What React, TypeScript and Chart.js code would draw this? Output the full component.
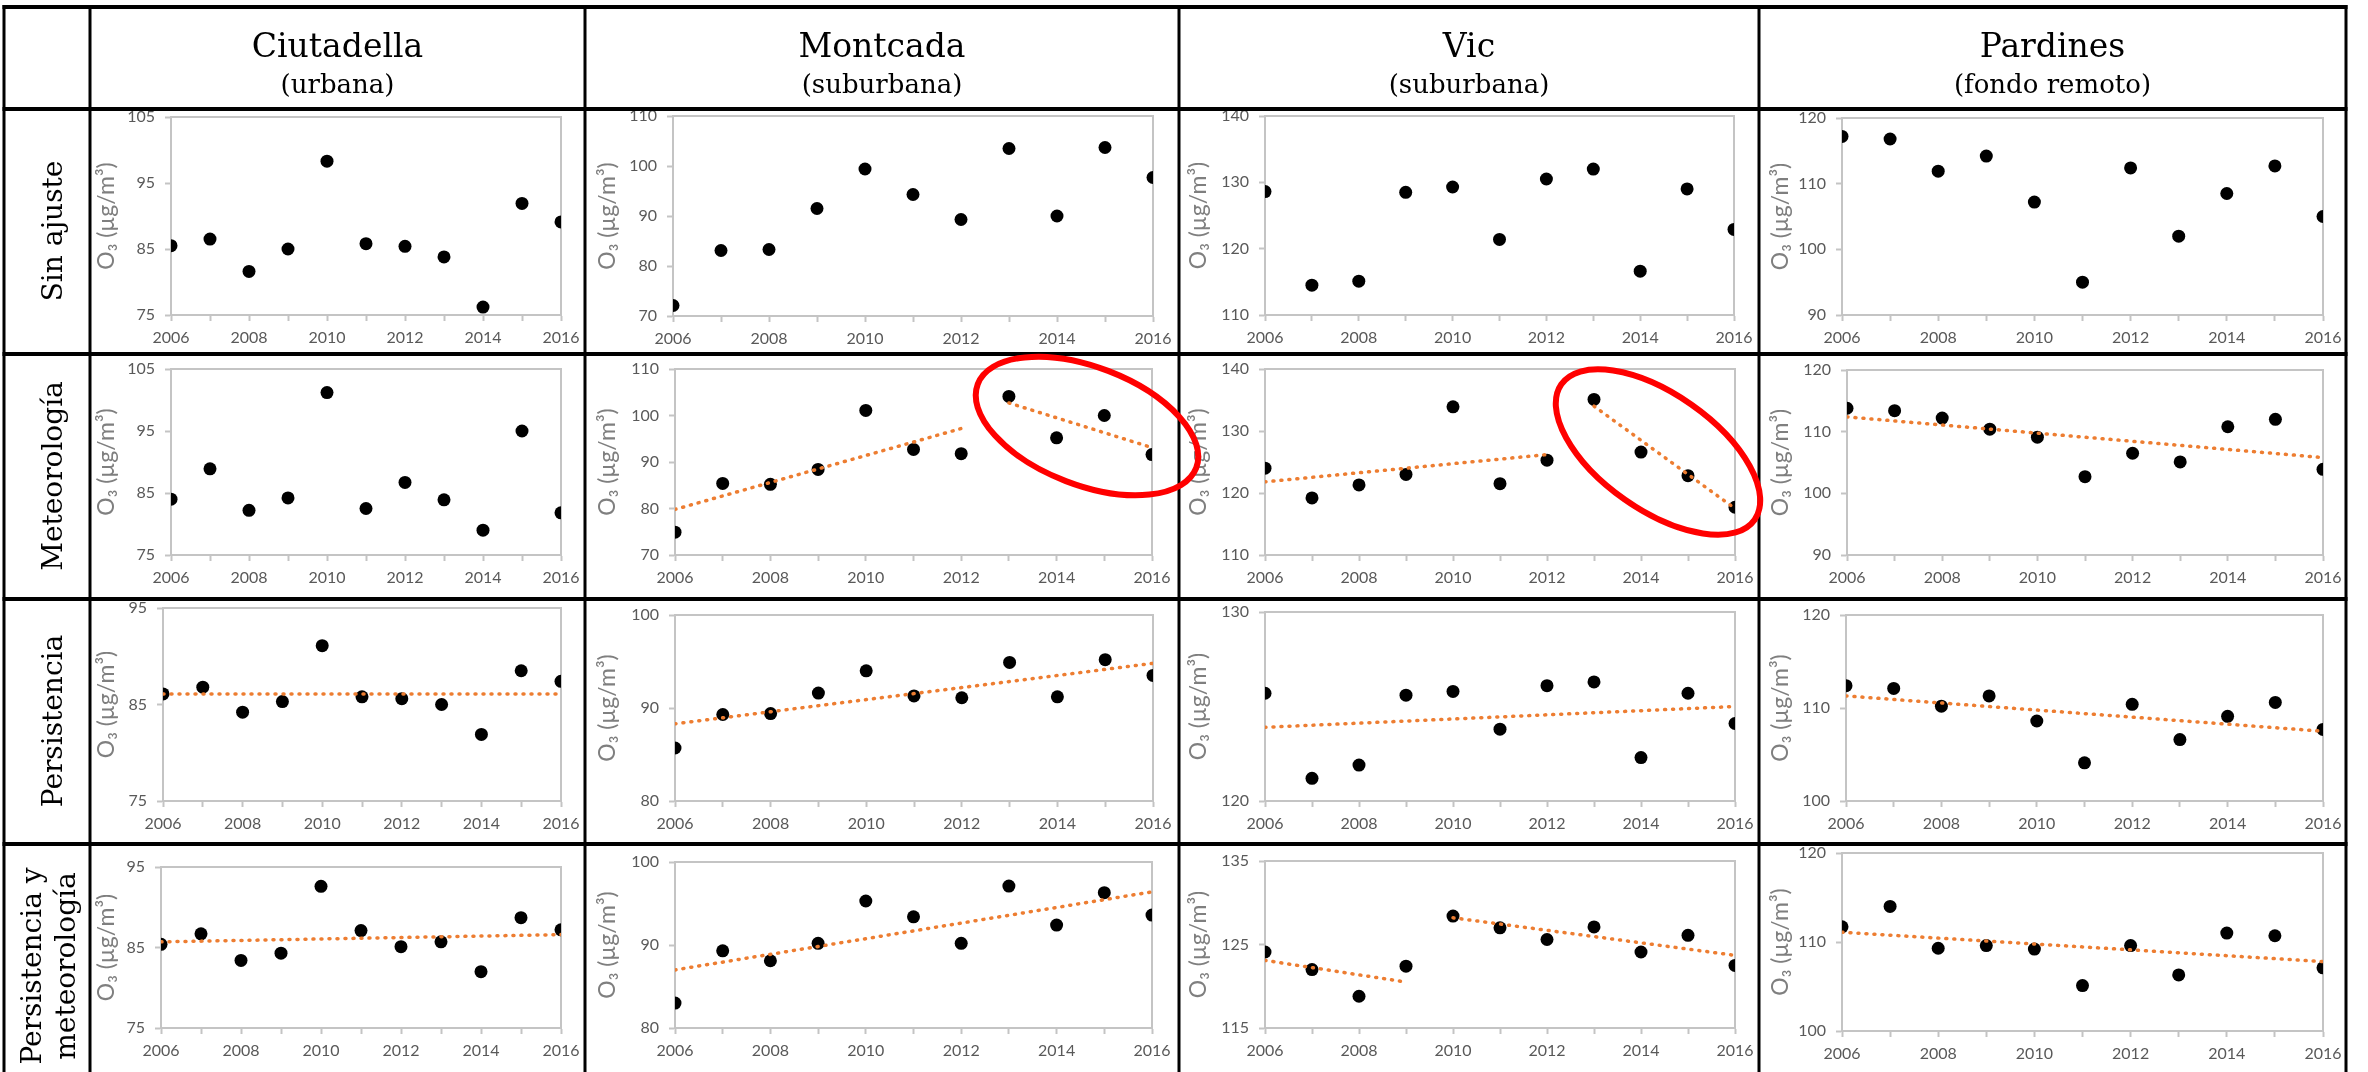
import React, { useEffect, useRef } from "react";
import { Chart, registerables } from "chart.js";

Chart.register(...registerables);

// ---------- data ----------
const years = [2006, 2007, 2008, 2009, 2010, 2011, 2012, 2013, 2014, 2015, 2016];
const stations = ["Ciutadella", "Montcada", "Vic", "Pardines"];
const stationTypes = ["(urbana)", "(suburbana)", "(suburbana)", "(fondo remoto)"];
const adjustmentLabels = [["Sin ajuste"], ["Meteorología"], ["Persistencia"], ["Persistencia y", "meteorología"]];
const yAxisTitle = "O\u2083 (\u00B5g/m\u00B3)";

// Sin ajuste
const sinAjusteCiutadella = [85.5, 86.5, 81.6, 85.0, 98.3, 85.8, 85.4, 83.8, 76.2, 91.9, 89.1];
const sinAjusteMontcada = [72.1, 83.1, 83.3, 91.5, 99.4, 94.3, 89.3, 103.5, 90.0, 103.7, 97.7];
const sinAjusteVic = [128.6, 114.5, 115.1, 128.5, 129.3, 121.4, 130.5, 132.0, 116.6, 129.0, 122.9];
const sinAjustePardines = [117.2, 116.8, 111.9, 114.2, 107.2, 95.0, 112.4, 102.0, 108.5, 112.7, 105.0];

// Meteorología
const meteoCiutadella = [84.0, 88.9, 82.2, 84.2, 101.2, 82.5, 86.7, 83.9, 79.0, 95.0, 81.8];
const meteoMontcada = [74.9, 85.4, 85.2, 88.4, 101.1, 92.7, 91.8, 104.1, 95.2, 100.0, 91.6];
const meteoVic = [124.0, 119.2, 121.3, 123.0, 133.9, 121.5, 125.3, 135.1, 126.6, 122.8, 117.7];
const meteoPardines = [113.8, 113.4, 112.2, 110.4, 109.1, 102.7, 106.5, 105.1, 110.8, 112.0, 103.9];

// Persistencia
const persCiutadella = [86.1, 86.8, 84.2, 85.3, 91.1, 85.8, 85.6, 85.0, 81.9, 88.5, 87.4];
const persMontcada = [85.7, 89.3, 89.4, 91.6, 94.0, 91.3, 91.1, 94.9, 91.2, 95.2, 93.5];
const persVic = [125.7, 121.2, 121.9, 125.6, 125.8, 123.8, 126.1, 126.3, 122.3, 125.7, 124.1];
const persPardines = [112.4, 112.1, 110.2, 111.3, 108.6, 104.1, 110.4, 106.6, 109.1, 110.6, 107.7];

// Persistencia y meteorología
const persMeteoCiutadella = [85.4, 86.7, 83.4, 84.3, 92.6, 87.1, 85.1, 85.7, 82.0, 88.7, 87.2];
const persMeteoMontcada = [83.0, 89.3, 88.1, 90.2, 95.3, 93.4, 90.2, 97.1, 92.4, 96.3, 93.6];
const persMeteoVic = [124.1, 122.0, 118.8, 122.4, 128.4, 127.0, 125.6, 127.1, 124.1, 126.1, 122.5];
const persMeteoPardines = [111.7, 114.0, 109.3, 109.6, 109.2, 105.1, 109.6, 106.3, 111.0, 110.7, 107.1];

// Trend lines: [year start, value start, year end, value end]
const trendMeteoMontcada = [[2006, 79.8, 2012, 97.2], [2013, 102.7, 2016, 93.1]];
const trendMeteoVic = [[2006, 121.8, 2012, 126.2], [2013, 134.0, 2016, 117.5]];
const trendMeteoPardines = [[2006, 112.4, 2016, 105.8]];
const trendPersCiutadella = [[2006, 86.1, 2016, 86.1]];
const trendPersMontcada = [[2006, 88.3, 2016, 94.8]];
const trendPersVic = [[2006, 123.9, 2016, 125.0]];
const trendPersPardines = [[2006, 111.3, 2016, 107.5]];
const trendPersMeteoCiutadella = [[2006, 85.7, 2016, 86.6]];
const trendPersMeteoMontcada = [[2006, 87.0, 2016, 96.4]];
const trendPersMeteoVic = [[2006, 123.1, 2009, 120.5], [2010, 128.2, 2016, 123.7]];
const trendPersMeteoPardines = [[2006, 111.1, 2016, 107.8]];

// y axis ranges [min, max] (tick labels every 10)
const yRangesSinAjuste = [[75, 105], [70, 110], [110, 140], [90, 120]];
const yRangesMeteo = [[75, 105], [70, 110], [110, 140], [90, 120]];
const yRangesPers = [[75, 95], [80, 100], [120, 130], [100, 120]];
const yRangesPersMeteo = [[75, 95], [80, 100], [115, 135], [100, 120]];

const rowSeries = [
  [sinAjusteCiutadella, sinAjusteMontcada, sinAjusteVic, sinAjustePardines],
  [meteoCiutadella, meteoMontcada, meteoVic, meteoPardines],
  [persCiutadella, persMontcada, persVic, persPardines],
  [persMeteoCiutadella, persMeteoMontcada, persMeteoVic, persMeteoPardines],
];
const rowTrends = [
  [[], [], [], []],
  [[], trendMeteoMontcada, trendMeteoVic, trendMeteoPardines],
  [trendPersCiutadella, trendPersMontcada, trendPersVic, trendPersPardines],
  [trendPersMeteoCiutadella, trendPersMeteoMontcada, trendPersMeteoVic, trendPersMeteoPardines],
];
const rowYRanges = [yRangesSinAjuste, yRangesMeteo, yRangesPers, yRangesPersMeteo];

// ---------- layout (page pixels) ----------
const W = 2368;
const H = 1072;
const colLines = [4, 90, 585, 1179, 1759, 2346];
const rowLines = [7, 109, 354, 599, 844, 1089];
const titleXs = [107, 608, 1199, 1781];
// plot area [left, top, right, bottom]
const plotRects = [
  [[171, 117, 561, 315], [673, 116, 1153, 316], [1265, 116, 1734, 315], [1842, 118, 2323, 315]],
  [[171, 369, 561, 555], [675, 369, 1152, 555], [1265, 369, 1735, 555], [1847, 370, 2323, 555]],
  [[163, 608, 561, 801], [675, 615, 1153, 801], [1265, 612, 1735, 801], [1846, 615, 2323, 801]],
  [[161, 867, 561, 1028], [675, 862, 1152, 1028], [1265, 861, 1735, 1028], [1842, 853, 2323, 1031]],
];

const FRAME = "#c4c4c4";
const TICK_COLOR = "#595959";
const TITLE_COLOR = "#7f7f7f";
const TREND_COLOR = "#ED7D31";
const PAD_TOP = 30;
const PAD_RIGHT = 30;
const X_AXIS_H = 45;
const TITLE_SIZE = 23;

const framePlugin = {
  id: "plotFrame",
  beforeDatasetsDraw(chart: any) {
    const { ctx, chartArea: a } = chart;
    ctx.save();
    ctx.strokeStyle = FRAME;
    ctx.lineWidth = 2;
    ctx.beginPath();
    ctx.moveTo(a.left, a.top);
    ctx.lineTo(a.right, a.top);
    ctx.lineTo(a.right, a.bottom);
    ctx.stroke();
    ctx.restore();
  },
};

function Panel({ row, col }: { row: number; col: number }) {
  const ref = useRef<HTMLCanvasElement>(null);
  const [pl, pt, pr, pb] = plotRects[row][col];
  const left = colLines[col] + 2;
  const top = pt - PAD_TOP;
  const width = pr + PAD_RIGHT - left;
  const height = pb + X_AXIS_H - top;
  const yW = pl - left;
  const titlePad = Math.max(0, titleXs[col] - left - (TITLE_SIZE * 1.2) / 2);

  useEffect(() => {
    const values = rowSeries[row][col];
    const trends = rowTrends[row][col];
    const [ymin, ymax] = rowYRanges[row][col];
    const datasets: any[] = trends.map((s: number[]) => ({
      data: [
        { x: s[0], y: s[1] },
        { x: s[2], y: s[3] },
      ],
      showLine: true,
      borderColor: TREND_COLOR,
      borderWidth: 3.5,
      borderDash: [1, 7],
      borderCapStyle: "round",
      pointRadius: 0,
      fill: false,
      order: 0,
    }));
    datasets.push({
      data: years.map((x, i) => ({ x, y: values[i] })),
      backgroundColor: "#000000",
      borderWidth: 0,
      pointRadius: 6.5,
      pointHoverRadius: 6.5,
      order: 1,
    });
    const chart = new Chart(ref.current as HTMLCanvasElement, {
      type: "scatter",
      data: { datasets },
      options: {
        animation: false,
        responsive: false,
        maintainAspectRatio: false,
        layout: { padding: { top: PAD_TOP, right: PAD_RIGHT, left: 0, bottom: 0 } },
        plugins: { legend: { display: false }, tooltip: { enabled: false } },
        scales: {
          x: {
            type: "linear",
            min: 2006,
            max: 2016,
            afterFit: (s: any) => {
              s.height = X_AXIS_H;
            },
            ticks: {
              stepSize: 1,
              autoSkip: false,
              maxRotation: 0,
              padding: 7,
              color: TICK_COLOR,
              font: { family: "Lato", size: 16 },
              callback: (v: any) => (Number(v) % 2 === 0 ? String(v) : ""),
            },
            grid: { color: "rgba(0,0,0,0)", drawOnChartArea: false, tickColor: FRAME, tickLength: 6, tickWidth: 2 },
            border: { display: true, color: FRAME, width: 2 },
          },
          y: {
            type: "linear",
            min: ymin,
            max: ymax,
            afterFit: (s: any) => {
              s.width = yW;
            },
            ticks: {
              stepSize: 10,
              padding: 10,
              color: TICK_COLOR,
              font: { family: "Lato", size: 16 },
            },
            grid: { color: "rgba(0,0,0,0)", drawOnChartArea: false, tickColor: FRAME, tickLength: 6, tickWidth: 2 },
            border: { display: true, color: FRAME, width: 2 },
            title: {
              display: true,
              text: yAxisTitle,
              color: TITLE_COLOR,
              font: { family: "Lato", size: TITLE_SIZE },
              padding: { top: titlePad, bottom: 0 },
            },
          },
        },
      },
      plugins: [framePlugin],
    } as any);
    return () => chart.destroy();
  }, [row, col]);

  return (
    <canvas
      ref={ref}
      width={width}
      height={height}
      style={{ position: "absolute", left, top, width, height }}
    />
  );
}

function Overlay() {
  const serif = "'DejaVu Serif', 'Liberation Serif', serif";
  const rowCenters = [231, 476, 721, 966];
  return (
    <svg
      width={W}
      height={H}
      style={{ position: "absolute", left: 0, top: 0, pointerEvents: "none" }}
    >
      {colLines.map((x, i) => (
        <line key={"v" + i} x1={x} y1={rowLines[0] - 2} x2={x} y2={rowLines[5] + 2} stroke="#000" strokeWidth={3} />
      ))}
      {rowLines.map((y, i) => (
        <line key={"h" + i} x1={colLines[0] - 1.5} y1={y} x2={colLines[5] + 1.5} y2={y} stroke="#000" strokeWidth={4} />
      ))}
      {stations.map((s, i) => {
        const cx = (colLines[i + 1] + colLines[i + 2]) / 2;
        return (
          <g key={"hd" + i}>
            <text x={cx} y={57} textAnchor="middle" fontFamily={serif} fontSize={33} fill="#000">
              {s}
            </text>
            <text x={cx} y={93} textAnchor="middle" fontFamily={serif} fontSize={26} fill="#000">
              {stationTypes[i]}
            </text>
          </g>
        );
      })}
      {adjustmentLabels.map((lines, i) => {
        const baselines = lines.length === 1 ? [62] : [41, 75];
        return lines.map((t, j) => (
          <text
            key={"rl" + i + "_" + j}
            transform={`translate(${baselines[j]},${rowCenters[i]}) rotate(-90)`}
            textAnchor="middle"
            fontFamily={serif}
            fontSize={28}
            fill="#000"
          >
            {t}
          </text>
        ));
      })}
      <ellipse cx={1087} cy={426} rx={117} ry={59} transform="rotate(21 1087 426)" fill="none" stroke="#ff0000" strokeWidth={6} />
      <ellipse cx={1658} cy={452} rx={118} ry={58} transform="rotate(35 1658 452)" fill="none" stroke="#ff0000" strokeWidth={6} />
    </svg>
  );
}

export default function App() {
  const cells: React.ReactNode[] = [];
  for (let r = 0; r < 4; r++) {
    for (let c = 0; c < 4; c++) {
      cells.push(<Panel key={r + "-" + c} row={r} col={c} />);
    }
  }
  return (
    <div
      style={{
        position: "fixed",
        left: 0,
        top: 0,
        width: W,
        height: H,
        overflow: "hidden",
        background: "#ffffff",
      }}
    >
      {cells}
      <Overlay />
    </div>
  );
}
